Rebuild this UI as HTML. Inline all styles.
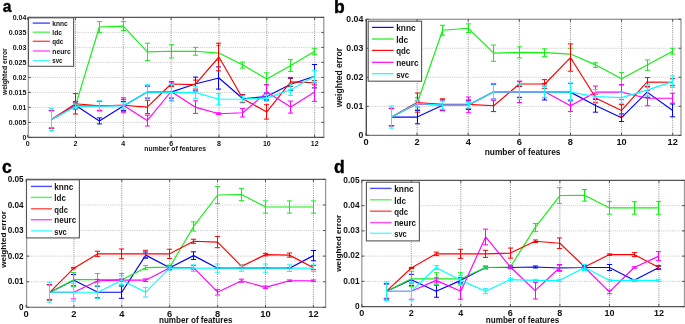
<!DOCTYPE html>
<html><head><meta charset="utf-8"><title>weighted error vs number of features</title>
<style>
html,body{margin:0;padding:0;background:#fff;}
body{width:685px;height:324px;overflow:hidden;}
svg{display:block;font-family:"Liberation Sans",sans-serif;filter:blur(0.35px);}
text{fill:#111;font-weight:bold;}
</style></head><body>
<svg width="685" height="324" viewBox="0 0 685 324">
<rect width="685" height="324" fill="#fff"/>
<path d="M75.44 17.4V137.4M123.28 17.4V137.4M171.12 17.4V137.4M218.96 17.4V137.4M266.8 17.4V137.4M314.64 17.4V137.4" stroke="#8c8c8c" stroke-width="1" stroke-dasharray="1 1.2" fill="none"/>
<path d="M28.3 122.4H323.8M28.3 107.4H323.8M28.3 92.4H323.8M28.3 77.4H323.8M28.3 62.4H323.8M28.3 47.4H323.8M28.3 32.4H323.8" stroke="#c4c4c4" stroke-width="1" stroke-dasharray="1 1.2" fill="none"/>
<path d="M51.5 110.4V128.4M48.9 110.4H54.1M48.9 128.4H54.1M75.5 101.7V108.9M72.9 101.7H78.1M72.9 108.9H78.1M99.5 117.9V123.9M96.9 117.9H102.1M96.9 123.9H102.1M123.5 101.4V110.4M120.9 101.4H126.1M120.9 110.4H126.1M147.5 86.1V98.1M144.9 86.1H150.1M144.9 98.1H150.1M171.5 86.1V98.1M168.9 86.1H174.1M168.9 98.1H174.1M195.5 77.1V90.9M192.9 77.1H198.1M192.9 90.9H198.1M218.5 66.9V89.1M215.9 66.9H221.1M215.9 89.1H221.1M242.5 94.8V102.6M239.9 94.8H245.1M239.9 102.6H245.1M266.5 93V100.2M263.9 93H269.1M263.9 100.2H269.1M290.5 78.3V90.3M287.9 78.3H293.1M287.9 90.3H293.1M314.5 64.5V87.9M311.9 64.5H317.1M311.9 87.9H317.1" stroke="#0000ff" stroke-width="1" fill="none"/>
<polyline points="51.52,119.4 75.44,105.3 99.36,120.9 123.28,105.9 147.2,92.1 171.12,92.1 195.04,84 218.96,78 242.88,98.7 266.8,96.6 290.72,84.3 314.64,76.2" stroke="#0000ff" stroke-width="1.15" fill="none" stroke-linejoin="round"/>
<path d="M51.5 110.4V128.4M48.9 110.4H54.1M48.9 128.4H54.1M75.5 102.9V108.9M72.9 102.9H78.1M72.9 108.9H78.1M99.5 21.6V32.4M96.9 21.6H102.1M96.9 32.4H102.1M123.5 21.6V30.6M120.9 21.6H126.1M120.9 30.6H126.1M147.5 43.2V60.6M144.9 43.2H150.1M144.9 60.6H150.1M171.5 44.7V57.9M168.9 44.7H174.1M168.9 57.9H174.1M195.5 47.4V55.2M192.9 47.4H198.1M192.9 55.2H198.1M218.5 45.6V60.6M215.9 45.6H221.1M215.9 60.6H221.1M242.5 62.1V68.1M239.9 62.1H245.1M239.9 68.1H245.1M266.5 72.9V84.9M263.9 72.9H269.1M263.9 84.9H269.1M290.5 59.4V71.4M287.9 59.4H293.1M287.9 71.4H293.1M314.5 48.3V54.3M311.9 48.3H317.1M311.9 54.3H317.1" stroke="#11f011" stroke-width="1" fill="none"/>
<polyline points="51.52,119.4 75.44,105.9 99.36,27 123.28,26.1 147.2,51.9 171.12,51.3 195.04,51.3 218.96,53.1 242.88,65.1 266.8,78.9 290.72,65.4 314.64,51.3" stroke="#11f011" stroke-width="1.15" fill="none" stroke-linejoin="round"/>
<path d="M51.5 110.7V128.1M48.9 110.7H54.1M48.9 128.1H54.1M75.5 93.6V114M72.9 93.6H78.1M72.9 114H78.1M99.5 101.4V110.4M96.9 101.4H102.1M96.9 110.4H102.1M123.5 99.3V111.3M120.9 99.3H126.1M120.9 111.3H126.1M147.5 100.5V113.7M144.9 100.5H150.1M144.9 113.7H150.1M171.5 81.6V86.4M168.9 81.6H174.1M168.9 86.4H174.1M195.5 80.1V89.1M192.9 80.1H198.1M192.9 89.1H198.1M218.5 43.2V70.8M215.9 43.2H221.1M215.9 70.8H221.1M242.5 94.8V102.6M239.9 94.8H245.1M239.9 102.6H245.1M266.5 104.7V119.1M263.9 104.7H269.1M263.9 119.1H269.1M290.5 77.4V86.4M287.9 77.4H293.1M287.9 86.4H293.1M314.5 80.7V84.9M311.9 80.7H317.1M311.9 84.9H317.1" stroke="#ff0000" stroke-width="1" fill="none"/>
<polyline points="51.52,119.4 75.44,103.8 99.36,105.9 123.28,105.3 147.2,107.1 171.12,84 195.04,84.6 218.96,57 242.88,98.7 266.8,111.9 290.72,81.9 314.64,82.8" stroke="#ff0000" stroke-width="1.15" fill="none" stroke-linejoin="round"/>
<path d="M51.5 110.7V128.1M48.9 110.7H54.1M48.9 128.1H54.1M75.5 102.9V108.9M72.9 102.9H78.1M72.9 108.9H78.1M99.5 101.4V110.4M96.9 101.4H102.1M96.9 110.4H102.1M123.5 97.8V112.8M120.9 97.8H126.1M120.9 112.8H126.1M147.5 115.2V126M144.9 115.2H150.1M144.9 126H150.1M171.5 82.2V100.8M168.9 82.2H174.1M168.9 100.8H174.1M195.5 100.8V113.4M192.9 100.8H198.1M192.9 113.4H198.1M218.5 112.8V114.6M215.9 112.8H221.1M215.9 114.6H221.1M242.5 108.6V117M239.9 108.6H245.1M239.9 117H245.1M266.5 84.6V99.6M263.9 84.6H269.1M263.9 99.6H269.1M290.5 101.1V113.1M287.9 101.1H293.1M287.9 113.1H293.1M314.5 82.8V101.4M311.9 82.8H317.1M311.9 101.4H317.1" stroke="#ff00ff" stroke-width="1" fill="none"/>
<polyline points="51.52,119.4 75.44,105.9 99.36,105.9 123.28,105.3 147.2,120.6 171.12,91.5 195.04,107.1 218.96,113.7 242.88,112.8 266.8,92.1 290.72,107.1 314.64,92.1" stroke="#ff00ff" stroke-width="1.15" fill="none" stroke-linejoin="round"/>
<path d="M51.5 108.3V130.5M48.9 108.3H54.1M48.9 130.5H54.1M75.5 104.1V108.9M72.9 104.1H78.1M72.9 108.9H78.1M99.5 100.8V111.6M96.9 100.8H102.1M96.9 111.6H102.1M123.5 102.9V108.9M120.9 102.9H126.1M120.9 108.9H126.1M147.5 84.3V99.9M144.9 84.3H150.1M144.9 99.9H150.1M171.5 84.6V100.2M168.9 84.6H174.1M168.9 100.2H174.1M195.5 86.4V98.4M192.9 86.4H198.1M192.9 98.4H198.1M218.5 93.6V105M215.9 93.6H221.1M215.9 105H221.1M242.5 96V102M239.9 96H245.1M239.9 102H245.1M266.5 95.1V101.1M263.9 95.1H269.1M263.9 101.1H269.1M290.5 84V95.4M287.9 84H293.1M287.9 95.4H293.1M314.5 70.2V82.2M311.9 70.2H317.1M311.9 82.2H317.1" stroke="#00ffff" stroke-width="1" fill="none"/>
<polyline points="51.52,119.4 75.44,106.5 99.36,106.2 123.28,105.9 147.2,92.1 171.12,92.4 195.04,92.4 218.96,99.3 242.88,99 266.8,98.1 290.72,89.7 314.64,76.2" stroke="#00ffff" stroke-width="1.15" fill="none" stroke-linejoin="round"/>
<path d="M27.8 17.4H324.3M27.8 137.4H324.3" stroke="#555" stroke-width="1.1" fill="none"/>
<path d="M323.8 17.4V137.4" stroke="#9a9a9a" stroke-width="1.3" fill="none"/>
<path d="M28.3 17.4V137.4" stroke="#9a9a9a" stroke-width="1.3" fill="none"/>
<path d="M27.6 137.4v-2.5M27.6 17.4v2.5M75.44 137.4v-2.5M75.44 17.4v2.5M123.28 137.4v-2.5M123.28 17.4v2.5M171.12 137.4v-2.5M171.12 17.4v2.5M218.96 137.4v-2.5M218.96 17.4v2.5M266.8 137.4v-2.5M266.8 17.4v2.5M314.64 137.4v-2.5M314.64 17.4v2.5M28.3 137.4h2.5M323.8 137.4h-2.5M28.3 122.4h2.5M323.8 122.4h-2.5M28.3 107.4h2.5M323.8 107.4h-2.5M28.3 92.4h2.5M323.8 92.4h-2.5M28.3 77.4h2.5M323.8 77.4h-2.5M28.3 62.4h2.5M323.8 62.4h-2.5M28.3 47.4h2.5M323.8 47.4h-2.5M28.3 32.4h2.5M323.8 32.4h-2.5M28.3 17.4h2.5M323.8 17.4h-2.5" stroke="#404040" stroke-width="0.9" fill="none"/>
<text x="27.6" y="145.8" font-size="7.0" text-anchor="middle">0</text>
<text x="75.44" y="145.8" font-size="7.0" text-anchor="middle">2</text>
<text x="123.28" y="145.8" font-size="7.0" text-anchor="middle">4</text>
<text x="171.12" y="145.8" font-size="7.0" text-anchor="middle">6</text>
<text x="218.96" y="145.8" font-size="7.0" text-anchor="middle">8</text>
<text x="266.8" y="145.8" font-size="7.0" text-anchor="middle">10</text>
<text x="314.64" y="145.8" font-size="7.0" text-anchor="middle">12</text>
<text x="26.3" y="139.91" font-size="7.0" text-anchor="end" textLength="3.89" lengthAdjust="spacingAndGlyphs">0</text>
<text x="26.3" y="124.91" font-size="7.0" text-anchor="end" textLength="17.51" lengthAdjust="spacingAndGlyphs">0.005</text>
<text x="26.3" y="109.91" font-size="7.0" text-anchor="end" textLength="13.62" lengthAdjust="spacingAndGlyphs">0.01</text>
<text x="26.3" y="94.91" font-size="7.0" text-anchor="end" textLength="17.51" lengthAdjust="spacingAndGlyphs">0.015</text>
<text x="26.3" y="79.91" font-size="7.0" text-anchor="end" textLength="13.62" lengthAdjust="spacingAndGlyphs">0.02</text>
<text x="26.3" y="64.91" font-size="7.0" text-anchor="end" textLength="17.51" lengthAdjust="spacingAndGlyphs">0.025</text>
<text x="26.3" y="49.91" font-size="7.0" text-anchor="end" textLength="13.62" lengthAdjust="spacingAndGlyphs">0.03</text>
<text x="26.3" y="34.91" font-size="7.0" text-anchor="end" textLength="17.51" lengthAdjust="spacingAndGlyphs">0.035</text>
<text x="26.3" y="19.91" font-size="7.0" text-anchor="end" textLength="13.62" lengthAdjust="spacingAndGlyphs">0.04</text>
<text x="175.2" y="151.4" font-size="7.0" text-anchor="middle" textLength="61.8" lengthAdjust="spacingAndGlyphs">number of features</text>
<text transform="translate(7 71.75) rotate(-90)" x="0" y="0" font-size="6.7" text-anchor="middle" textLength="46.7" lengthAdjust="spacingAndGlyphs">weighted error</text>
<rect x="28.5" y="17.8" width="45.1" height="48.5" fill="#fff" stroke="#555" stroke-width="1.1"/>
<path d="M32.7 23.1H50" stroke="#0000ff" stroke-width="1.4" opacity="0.7"/>
<text x="52.3" y="25.69" font-size="7.2" textLength="15.4" lengthAdjust="spacingAndGlyphs">knnc</text>
<path d="M32.7 32.2H50" stroke="#11f011" stroke-width="1.4" opacity="0.7"/>
<text x="52.3" y="34.79" font-size="7.2" textLength="9.6" lengthAdjust="spacingAndGlyphs">ldc</text>
<path d="M32.7 41.3H50" stroke="#ff0000" stroke-width="1.4" opacity="0.7"/>
<text x="52.3" y="43.89" font-size="7.2" textLength="11.0" lengthAdjust="spacingAndGlyphs">qdc</text>
<path d="M32.7 51H50" stroke="#ff00ff" stroke-width="1.4" opacity="0.7"/>
<text x="52.3" y="53.59" font-size="7.2" textLength="18.4" lengthAdjust="spacingAndGlyphs">neurc</text>
<path d="M32.7 60.6H50" stroke="#00ffff" stroke-width="1.4" opacity="0.7"/>
<text x="52.3" y="63.19" font-size="7.2" textLength="10.2" lengthAdjust="spacingAndGlyphs">svc</text>
<text x="2.8" y="12.4" font-size="15.6" font-weight="bold" fill="#000" style="fill:#000" stroke="#000" stroke-width="0.4">a</text>
<path d="M417.07 19.2V135.4M468.19 19.2V135.4M519.31 19.2V135.4M570.43 19.2V135.4M621.55 19.2V135.4M672.67 19.2V135.4" stroke="#8c8c8c" stroke-width="1" stroke-dasharray="1 1.2" fill="none"/>
<path d="M366.3 106.35H681M366.3 77.3H681M366.3 48.25H681" stroke="#c4c4c4" stroke-width="1" stroke-dasharray="1 1.2" fill="none"/>
<path d="M391.5 108.38V125.81M388.9 108.38H394.1M388.9 125.81H394.1M417.5 110.42V123.78M414.9 110.42H420.1M414.9 123.78H420.1M442.5 99.96V110.42M439.9 99.96H445.1M439.9 110.42H445.1M468.5 100.83V109.55M465.9 100.83H471.1M465.9 109.55H471.1M493.5 84.56V99.09M490.9 84.56H496.1M490.9 99.09H496.1M519.5 86.31V97.34M516.9 86.31H522.1M516.9 97.34H522.1M544.5 83.69V99.96M541.9 83.69H547.1M541.9 99.96H547.1M570.5 83.4V100.83M567.9 83.4H573.1M567.9 100.83H573.1M595.5 99.38V112.16M592.9 99.38H598.1M592.9 112.16H598.1M621.5 113.9V121.46M618.9 113.9H624.1M618.9 121.46H624.1M647.5 86.89V97.34M644.9 86.89H650.1M644.9 97.34H650.1M672.5 104.03V116.81M669.9 104.03H675.1M669.9 116.81H675.1" stroke="#0000ff" stroke-width="1" fill="none"/>
<polyline points="391.51,117.1 417.07,117.1 442.63,105.19 468.19,105.19 493.75,91.83 519.31,91.83 544.87,91.83 570.43,92.12 595.99,105.77 621.55,117.68 647.11,92.12 672.67,110.42" stroke="#0000ff" stroke-width="1.15" fill="none" stroke-linejoin="round"/>
<path d="M391.5 108.38V125.81M388.9 108.38H394.1M388.9 125.81H394.1M417.5 97.64V109.26M414.9 97.64H420.1M414.9 109.26H420.1M442.5 25.3V35.18M439.9 25.3H445.1M439.9 35.18H445.1M468.5 23.85V32.56M465.9 23.85H471.1M465.9 32.56H471.1M493.5 45.05V61.32M490.9 45.05H496.1M490.9 61.32H496.1M519.5 46.8V57.84M516.9 46.8H522.1M516.9 57.84H522.1M544.5 48.83V56.38M541.9 48.83H547.1M541.9 56.38H547.1M570.5 48.25V59.87M567.9 48.25H573.1M567.9 59.87H573.1M595.5 62.78V67.42M592.9 62.78H598.1M592.9 67.42H598.1M621.5 72.36V85.14M618.9 72.36H624.1M618.9 85.14H624.1M647.5 59.87V70.33M644.9 59.87H650.1M644.9 70.33H650.1M672.5 48.25V54.06M669.9 48.25H675.1M669.9 54.06H675.1" stroke="#11f011" stroke-width="1" fill="none"/>
<polyline points="391.51,117.1 417.07,103.45 442.63,30.24 468.19,28.21 493.75,53.19 519.31,52.32 544.87,52.61 570.43,54.06 595.99,65.1 621.55,78.75 647.11,65.1 672.67,51.16" stroke="#11f011" stroke-width="1.15" fill="none" stroke-linejoin="round"/>
<path d="M391.5 108.67V125.52M388.9 108.67H394.1M388.9 125.52H394.1M417.5 92.99V112.16M414.9 92.99H420.1M414.9 112.16H420.1M442.5 98.8V109.84M439.9 98.8H445.1M439.9 109.84H445.1M468.5 99.96V108.67M465.9 99.96H471.1M465.9 108.67H471.1M493.5 99.96V111.58M490.9 99.96H496.1M490.9 111.58H496.1M519.5 81.66V86.31M516.9 81.66H522.1M516.9 86.31H522.1M544.5 79.62V88.34M541.9 79.62H547.1M541.9 88.34H547.1M570.5 43.89V71.2M567.9 43.89H573.1M567.9 71.2H573.1M595.5 94.15V102.28M592.9 94.15H598.1M592.9 102.28H598.1M621.5 104.61V116.23M618.9 104.61H624.1M618.9 116.23H624.1M647.5 77.59V86.31M644.9 77.59H650.1M644.9 86.31H650.1M672.5 78.75V85.72M669.9 78.75H675.1M669.9 85.72H675.1" stroke="#ff0000" stroke-width="1" fill="none"/>
<polyline points="391.51,117.1 417.07,102.57 442.63,104.32 468.19,104.32 493.75,105.77 519.31,83.98 544.87,83.98 570.43,57.55 595.99,98.22 621.55,110.42 647.11,81.95 672.67,82.24" stroke="#ff0000" stroke-width="1.15" fill="none" stroke-linejoin="round"/>
<path d="M391.5 108.38V125.81M388.9 108.38H394.1M388.9 125.81H394.1M417.5 101.12V106.93M414.9 101.12H420.1M414.9 106.93H420.1M442.5 99.67V110.71M439.9 99.67H445.1M439.9 110.71H445.1M468.5 97.05V112.74M465.9 97.05H471.1M465.9 112.74H471.1M493.5 83.4V100.25M490.9 83.4H496.1M490.9 100.25H496.1M519.5 81.08V102.57M516.9 81.08H522.1M516.9 102.57H522.1M544.5 86.02V97.64M541.9 86.02H547.1M541.9 97.64H547.1M570.5 99.96V111.58M567.9 99.96H573.1M567.9 111.58H573.1M595.5 86.02V98.22M592.9 86.02H598.1M592.9 98.22H598.1M621.5 84.56V99.67M618.9 84.56H624.1M618.9 99.67H624.1M647.5 90.66V105.77M644.9 90.66H650.1M644.9 105.77H650.1M672.5 93.28V103.15M669.9 93.28H675.1M669.9 103.15H675.1" stroke="#ff00ff" stroke-width="1" fill="none"/>
<polyline points="391.51,117.1 417.07,104.03 442.63,105.19 468.19,104.9 493.75,91.83 519.31,91.83 544.87,91.83 570.43,105.77 595.99,92.12 621.55,92.12 647.11,98.22 672.67,98.22" stroke="#ff00ff" stroke-width="1.15" fill="none" stroke-linejoin="round"/>
<path d="M391.5 106.06V128.14M388.9 106.06H394.1M388.9 128.14H394.1M417.5 99.96V106.93M414.9 99.96H420.1M414.9 106.93H420.1M442.5 101.12V109.26M439.9 101.12H445.1M439.9 109.26H445.1M468.5 102.28V108.09M465.9 102.28H471.1M465.9 108.09H471.1M493.5 83.98V99.67M490.9 83.98H496.1M490.9 99.67H496.1M519.5 84.27V99.38M516.9 84.27H522.1M516.9 99.38H522.1M544.5 86.02V97.64M541.9 86.02H547.1M541.9 97.64H547.1M570.5 83.11V101.12M567.9 83.11H573.1M567.9 101.12H573.1M595.5 89.5V103.45M592.9 89.5H598.1M592.9 103.45H598.1M621.5 92.12V103.15M618.9 92.12H624.1M618.9 103.15H624.1M647.5 84.27V95.89M644.9 84.27H650.1M644.9 95.89H650.1M672.5 75.85V87.47M669.9 75.85H675.1M669.9 87.47H675.1" stroke="#00ffff" stroke-width="1" fill="none"/>
<polyline points="391.51,117.1 417.07,103.45 442.63,105.19 468.19,105.19 493.75,91.83 519.31,91.83 544.87,91.83 570.43,92.12 595.99,96.47 621.55,97.64 647.11,90.08 672.67,81.66" stroke="#00ffff" stroke-width="1.15" fill="none" stroke-linejoin="round"/>
<path d="M365.8 19.2H681.5M365.8 135.4H681.5" stroke="#777" stroke-width="1.1" fill="none"/>
<path d="M681 19.2V135.4" stroke="#999" stroke-width="1.3" fill="none"/>
<path d="M366.3 19.2V135.4" stroke="#444" stroke-width="1.3" fill="none"/>
<path d="M365.95 135.4v-2.5M365.95 19.2v2.5M417.07 135.4v-2.5M417.07 19.2v2.5M468.19 135.4v-2.5M468.19 19.2v2.5M519.31 135.4v-2.5M519.31 19.2v2.5M570.43 135.4v-2.5M570.43 19.2v2.5M621.55 135.4v-2.5M621.55 19.2v2.5M672.67 135.4v-2.5M672.67 19.2v2.5M366.3 135.4h2.5M681 135.4h-2.5M366.3 106.35h2.5M681 106.35h-2.5M366.3 77.3h2.5M681 77.3h-2.5M366.3 48.25h2.5M681 48.25h-2.5M366.3 19.2h2.5M681 19.2h-2.5" stroke="#404040" stroke-width="0.9" fill="none"/>
<text x="365.95" y="144.6" font-size="9.2" text-anchor="middle">0</text>
<text x="417.07" y="144.6" font-size="9.2" text-anchor="middle">2</text>
<text x="468.19" y="144.6" font-size="9.2" text-anchor="middle">4</text>
<text x="519.31" y="144.6" font-size="9.2" text-anchor="middle">6</text>
<text x="570.43" y="144.6" font-size="9.2" text-anchor="middle">8</text>
<text x="621.55" y="144.6" font-size="9.2" text-anchor="middle">10</text>
<text x="672.67" y="144.6" font-size="9.2" text-anchor="middle">12</text>
<text x="363.3" y="138.09" font-size="9.2" text-anchor="end" textLength="4.86" lengthAdjust="spacingAndGlyphs">0</text>
<text x="363.3" y="109.04" font-size="9.2" text-anchor="end" textLength="17.01" lengthAdjust="spacingAndGlyphs">0.01</text>
<text x="363.3" y="79.99" font-size="9.2" text-anchor="end" textLength="17.01" lengthAdjust="spacingAndGlyphs">0.02</text>
<text x="363.3" y="50.94" font-size="9.2" text-anchor="end" textLength="17.01" lengthAdjust="spacingAndGlyphs">0.03</text>
<text x="363.3" y="21.89" font-size="9.2" text-anchor="end" textLength="17.01" lengthAdjust="spacingAndGlyphs">0.04</text>
<text x="522.6" y="154.7" font-size="8.6" text-anchor="middle" textLength="75.9" lengthAdjust="spacingAndGlyphs">number of features</text>
<text transform="translate(341.6 77.65) rotate(-90)" x="0" y="0" font-size="8.5" text-anchor="middle" textLength="59.3" lengthAdjust="spacingAndGlyphs">weighted error</text>
<rect x="368.2" y="21.2" width="53.4" height="60" fill="#fff" stroke="#555" stroke-width="1.1"/>
<path d="M371.9 27.4H393.6" stroke="#0000ff" stroke-width="1.25" opacity="0.95"/>
<text x="396.2" y="31.3" font-size="8.6" textLength="19.4" lengthAdjust="spacingAndGlyphs">knnc</text>
<path d="M371.9 39H393.6" stroke="#11f011" stroke-width="1.25" opacity="0.95"/>
<text x="396.2" y="42.9" font-size="8.6" textLength="12.0" lengthAdjust="spacingAndGlyphs">ldc</text>
<path d="M371.9 50.4H393.6" stroke="#ff0000" stroke-width="1.25" opacity="0.95"/>
<text x="396.2" y="54.3" font-size="8.6" textLength="14.0" lengthAdjust="spacingAndGlyphs">qdc</text>
<path d="M371.9 62.3H393.6" stroke="#ff00ff" stroke-width="1.25" opacity="0.95"/>
<text x="396.2" y="66.2" font-size="8.6" textLength="22.4" lengthAdjust="spacingAndGlyphs">neurc</text>
<path d="M371.9 73.7H393.6" stroke="#00ffff" stroke-width="1.25" opacity="0.95"/>
<text x="396.2" y="77.6" font-size="8.6" textLength="12.8" lengthAdjust="spacingAndGlyphs">svc</text>
<text x="334" y="12.7" font-size="17.5" font-weight="bold" fill="#000" style="fill:#000" stroke="#000" stroke-width="0.4">b</text>
<path d="M73.9 179.4V307.3M121.8 179.4V307.3M169.7 179.4V307.3M217.6 179.4V307.3M265.5 179.4V307.3M313.4 179.4V307.3" stroke="#8c8c8c" stroke-width="1" stroke-dasharray="1 1.2" fill="none"/>
<path d="M26.6 281.72H325.6M26.6 256.14H325.6M26.6 230.56H325.6M26.6 204.98H325.6" stroke="#c4c4c4" stroke-width="1" stroke-dasharray="1 1.2" fill="none"/>
<path d="M49.5 284.53V299.88M46.9 284.53H52.1M46.9 299.88H52.1M73.5 274.56V285.81M70.9 274.56H76.1M70.9 285.81H76.1M97.5 286.58V297.84M94.9 286.58H100.1M94.9 297.84H100.1M121.5 286.07V298.35M118.9 286.07H124.1M118.9 298.35H124.1M145.5 252.05V258.19M142.9 252.05H148.1M142.9 258.19H148.1M169.5 265.6V269.7M166.9 265.6H172.1M166.9 269.7H172.1M193.5 251.79V259.47M190.9 251.79H196.1M190.9 259.47H196.1M217.5 268.16V268.16M214.9 268.16H220.1M214.9 268.16H220.1M241.5 268.16V268.16M238.9 268.16H244.1M238.9 268.16H244.1M265.5 268.16V268.16M262.9 268.16H268.1M262.9 268.16H268.1M289.5 268.16V268.16M286.9 268.16H292.1M286.9 268.16H292.1M313.5 250.51V260.74M310.9 250.51H316.1M310.9 260.74H316.1" stroke="#0000ff" stroke-width="1" fill="none"/>
<polyline points="49.95,292.21 73.9,280.19 97.85,292.21 121.8,292.21 145.75,255.12 169.7,267.65 193.65,255.63 217.6,268.16 241.55,268.16 265.5,268.16 289.45,268.16 313.4,255.63" stroke="#0000ff" stroke-width="1.15" fill="none" stroke-linejoin="round"/>
<path d="M49.5 284.53V299.88M46.9 284.53H52.1M46.9 299.88H52.1M73.5 272.51V286.84M70.9 272.51H76.1M70.9 286.84H76.1M97.5 273.53V285.81M94.9 273.53H100.1M94.9 285.81H100.1M121.5 273.53V285.81M118.9 273.53H124.1M118.9 285.81H124.1M145.5 265.6V269.7M142.9 265.6H148.1M142.9 269.7H148.1M169.5 265.09V269.19M166.9 265.09H172.1M166.9 269.19H172.1M193.5 221.86V231.07M190.9 221.86H196.1M190.9 231.07H196.1M217.5 186.56V203.45M214.9 186.56H220.1M214.9 203.45H220.1M241.5 188.35V200.63M238.9 188.35H244.1M238.9 200.63H244.1M265.5 200.89V213.17M262.9 200.89H268.1M262.9 213.17H268.1M289.5 200.89V213.17M286.9 200.89H292.1M286.9 213.17H292.1M313.5 200.89V213.17M310.9 200.89H316.1M310.9 213.17H316.1" stroke="#11f011" stroke-width="1" fill="none"/>
<polyline points="49.95,292.21 73.9,279.67 97.85,279.67 121.8,279.67 145.75,267.65 169.7,267.14 193.65,226.47 217.6,195 241.55,194.49 265.5,207.03 289.45,207.03 313.4,207.03" stroke="#11f011" stroke-width="1.15" fill="none" stroke-linejoin="round"/>
<path d="M49.5 284.53V299.88M46.9 284.53H52.1M46.9 299.88H52.1M73.5 267.4V268.93M70.9 267.4H76.1M70.9 268.93H76.1M97.5 251.28V256.4M94.9 251.28H100.1M94.9 256.4H100.1M121.5 248.98V258.7M118.9 248.98H124.1M118.9 258.7H124.1M145.5 250.26V257.42M142.9 250.26H148.1M142.9 257.42H148.1M169.5 249.23V258.44M166.9 249.23H172.1M166.9 258.44H172.1M193.5 239.26V243.35M190.9 239.26H196.1M190.9 243.35H196.1M217.5 236.44V247.7M214.9 236.44H220.1M214.9 247.7H220.1M241.5 265.09V267.65M238.9 265.09H244.1M238.9 267.65H244.1M265.5 253.33V255.88M262.9 253.33H268.1M262.9 255.88H268.1M289.5 253.07V257.16M286.9 253.07H292.1M286.9 257.16H292.1M313.5 265.6V269.7M310.9 265.6H316.1M310.9 269.7H316.1" stroke="#ff0000" stroke-width="1" fill="none"/>
<polyline points="49.95,292.21 73.9,268.16 97.85,253.84 121.8,253.84 145.75,253.84 169.7,253.84 193.65,241.3 217.6,242.07 241.55,266.37 265.5,254.61 289.45,255.12 313.4,267.65" stroke="#ff0000" stroke-width="1.15" fill="none" stroke-linejoin="round"/>
<path d="M49.5 285.05V299.37M46.9 285.05H52.1M46.9 299.37H52.1M73.5 285.56V298.86M70.9 285.56H76.1M70.9 298.86H76.1M97.5 279.42V281.98M94.9 279.42H100.1M94.9 281.98H100.1M121.5 278.91V281.46M118.9 278.91H124.1M118.9 281.46H124.1M145.5 278.91V281.46M142.9 278.91H148.1M142.9 281.46H148.1M169.5 265.6V269.7M166.9 265.6H172.1M166.9 269.7H172.1M193.5 265.6V269.7M190.9 265.6H196.1M190.9 269.7H196.1M217.5 289.39V295.02M214.9 289.39H220.1M214.9 295.02H220.1M241.5 279.16V282.23M238.9 279.16H244.1M238.9 282.23H244.1M265.5 286.07V288.63M262.9 286.07H268.1M262.9 288.63H268.1M289.5 279.93V281.46M286.9 279.93H292.1M286.9 281.46H292.1M313.5 279.93V281.46M310.9 279.93H316.1M310.9 281.46H316.1" stroke="#ff00ff" stroke-width="1" fill="none"/>
<polyline points="49.95,292.21 73.9,292.21 97.85,280.7 121.8,280.19 145.75,280.19 169.7,267.65 193.65,267.65 217.6,292.21 241.55,280.7 265.5,287.35 289.45,280.7 313.4,280.7" stroke="#ff00ff" stroke-width="1.15" fill="none" stroke-linejoin="round"/>
<path d="M49.5 282.23V302.18M46.9 282.23H52.1M46.9 302.18H52.1M73.5 283.25V301.16M70.9 283.25H76.1M70.9 301.16H76.1M97.5 285.81V298.6M94.9 285.81H100.1M94.9 298.6H100.1M121.5 275.84V284.53M118.9 275.84H124.1M118.9 284.53H124.1M145.5 287.35V297.07M142.9 287.35H148.1M142.9 297.07H148.1M169.5 266.12V270.21M166.9 266.12H172.1M166.9 270.21H172.1M193.5 264.84V271.49M190.9 264.84H196.1M190.9 271.49H196.1M217.5 264.07V272.26M214.9 264.07H220.1M214.9 272.26H220.1M241.5 265.09V271.23M238.9 265.09H244.1M238.9 271.23H244.1M265.5 264.07V272.26M262.9 264.07H268.1M262.9 272.26H268.1M289.5 264.84V271.49M286.9 264.84H292.1M286.9 271.49H292.1M313.5 264.84V271.49M310.9 264.84H316.1M310.9 271.49H316.1" stroke="#00ffff" stroke-width="1" fill="none"/>
<polyline points="49.95,292.21 73.9,292.21 97.85,292.21 121.8,280.19 145.75,292.21 169.7,268.16 193.65,268.16 217.6,268.16 241.55,268.16 265.5,268.16 289.45,268.16 313.4,268.16" stroke="#00ffff" stroke-width="1.15" fill="none" stroke-linejoin="round"/>
<path d="M26.1 179.4H326.1M26.1 307.3H326.1" stroke="#555" stroke-width="1.1" fill="none"/>
<path d="M325.6 179.4V307.3" stroke="#9a9a9a" stroke-width="1.3" fill="none"/>
<path d="M26.6 179.4V307.3" stroke="#9a9a9a" stroke-width="1.3" fill="none"/>
<path d="M26 307.3v-2.5M26 179.4v2.5M73.9 307.3v-2.5M73.9 179.4v2.5M121.8 307.3v-2.5M121.8 179.4v2.5M169.7 307.3v-2.5M169.7 179.4v2.5M217.6 307.3v-2.5M217.6 179.4v2.5M265.5 307.3v-2.5M265.5 179.4v2.5M313.4 307.3v-2.5M313.4 179.4v2.5M26.6 307.3h2.5M325.6 307.3h-2.5M26.6 281.72h2.5M325.6 281.72h-2.5M26.6 256.14h2.5M325.6 256.14h-2.5M26.6 230.56h2.5M325.6 230.56h-2.5M26.6 204.98h2.5M325.6 204.98h-2.5M26.6 179.4h2.5M325.6 179.4h-2.5" stroke="#404040" stroke-width="0.9" fill="none"/>
<text x="26" y="316.7" font-size="9.3" text-anchor="middle">0</text>
<text x="73.9" y="316.7" font-size="9.3" text-anchor="middle">2</text>
<text x="121.8" y="316.7" font-size="9.3" text-anchor="middle">4</text>
<text x="169.7" y="316.7" font-size="9.3" text-anchor="middle">6</text>
<text x="217.6" y="316.7" font-size="9.3" text-anchor="middle">8</text>
<text x="265.5" y="316.7" font-size="9.3" text-anchor="middle">10</text>
<text x="313.4" y="316.7" font-size="9.3" text-anchor="middle">12</text>
<text x="23.6" y="310.03" font-size="9.3" text-anchor="end" textLength="4.55" lengthAdjust="spacingAndGlyphs">0</text>
<text x="23.6" y="284.45" font-size="9.3" text-anchor="end" textLength="15.93" lengthAdjust="spacingAndGlyphs">0.01</text>
<text x="23.6" y="258.87" font-size="9.3" text-anchor="end" textLength="15.93" lengthAdjust="spacingAndGlyphs">0.02</text>
<text x="23.6" y="233.29" font-size="9.3" text-anchor="end" textLength="15.93" lengthAdjust="spacingAndGlyphs">0.03</text>
<text x="23.6" y="207.71" font-size="9.3" text-anchor="end" textLength="15.93" lengthAdjust="spacingAndGlyphs">0.04</text>
<text x="23.6" y="182.13" font-size="9.3" text-anchor="end" textLength="15.93" lengthAdjust="spacingAndGlyphs">0.05</text>
<text x="195.7" y="323" font-size="8.4" text-anchor="middle" textLength="73.5" lengthAdjust="spacingAndGlyphs">number of features</text>
<text transform="translate(6.1 239.5) rotate(-90)" x="0" y="0" font-size="8.1" text-anchor="middle" textLength="56.6" lengthAdjust="spacingAndGlyphs">weighted error</text>
<rect x="26.5" y="179.8" width="52.9" height="58.1" fill="#fff" stroke="#555" stroke-width="1.1"/>
<path d="M30.9 186.4H52" stroke="#0000ff" stroke-width="1.4" opacity="0.7"/>
<text x="54.3" y="190.15" font-size="8.2" textLength="19.0" lengthAdjust="spacingAndGlyphs">knnc</text>
<path d="M30.9 197.4H52" stroke="#11f011" stroke-width="1.4" opacity="0.7"/>
<text x="54.3" y="201.15" font-size="8.2" textLength="11.6" lengthAdjust="spacingAndGlyphs">ldc</text>
<path d="M30.9 208.8H52" stroke="#ff0000" stroke-width="1.4" opacity="0.7"/>
<text x="54.3" y="212.55" font-size="8.2" textLength="13.6" lengthAdjust="spacingAndGlyphs">qdc</text>
<path d="M30.9 219.7H52" stroke="#ff00ff" stroke-width="1.4" opacity="0.7"/>
<text x="54.3" y="223.45" font-size="8.2" textLength="21.8" lengthAdjust="spacingAndGlyphs">neurc</text>
<path d="M30.9 230.8H52" stroke="#00ffff" stroke-width="1.4" opacity="0.7"/>
<text x="54.3" y="234.55" font-size="8.2" textLength="12.4" lengthAdjust="spacingAndGlyphs">svc</text>
<text x="2" y="173.2" font-size="17.5" font-weight="bold" fill="#000" style="fill:#000" stroke="#000" stroke-width="0.4">c</text>
<path d="M411.32 180.4V306.6M460.84 180.4V306.6M510.36 180.4V306.6M559.88 180.4V306.6M609.4 180.4V306.6M658.92 180.4V306.6" stroke="#8c8c8c" stroke-width="1" stroke-dasharray="1 1.2" fill="none"/>
<path d="M361.8 281.36H684.5M361.8 256.12H684.5M361.8 230.88H684.5M361.8 205.64H684.5" stroke="#c4c4c4" stroke-width="1" stroke-dasharray="1 1.2" fill="none"/>
<path d="M386.5 283.63V298.78M383.9 283.63H389.1M383.9 298.78H389.1M411.5 274.29V285.4M408.9 274.29H414.1M408.9 285.4H414.1M436.5 285.15V297.26M433.9 285.15H439.1M433.9 297.26H439.1M460.5 277.83V282.87M457.9 277.83H463.1M457.9 282.87H463.1M485.5 266.22V268.74M482.9 266.22H488.1M482.9 268.74H488.1M510.5 266.22V268.74M507.9 266.22H513.1M507.9 268.74H513.1M535.5 265.96V267.98M532.9 265.96H538.1M532.9 267.98H538.1M559.5 264.95V271.01M556.9 264.95H562.1M556.9 271.01H562.1M584.5 266.22V268.74M581.9 266.22H587.1M581.9 268.74H587.1M609.5 264.45V270.51M606.9 264.45H612.1M606.9 270.51H612.1M634.5 279.59V281.11M631.9 279.59H637.1M631.9 281.11H637.1M658.5 266.22V268.74M655.9 266.22H661.1M655.9 268.74H661.1" stroke="#0000ff" stroke-width="1" fill="none"/>
<polyline points="386.56,291.2 411.32,279.85 436.08,291.2 460.84,280.35 485.6,267.48 510.36,267.48 535.12,266.97 559.88,267.98 584.64,267.48 609.4,267.48 634.16,280.35 658.92,267.48" stroke="#0000ff" stroke-width="1.15" fill="none" stroke-linejoin="round"/>
<path d="M386.5 283.63V298.78M383.9 283.63H389.1M383.9 298.78H389.1M411.5 271.26V286.41M408.9 271.26H414.1M408.9 286.41H414.1M436.5 272.78V284.89M433.9 272.78H439.1M433.9 284.89H439.1M460.5 272.78V284.89M457.9 272.78H463.1M457.9 284.89H463.1M485.5 266.22V268.74M482.9 266.22H488.1M482.9 268.74H488.1M510.5 265.71V268.24M507.9 265.71H513.1M507.9 268.24H513.1M535.5 223.56V231.64M532.9 223.56H538.1M532.9 231.64H538.1M559.5 187.72V203.37M556.9 187.72H562.1M556.9 203.37H562.1M584.5 189.49V201.1M581.9 189.49H587.1M581.9 201.1H587.1M609.5 201.6V214.22M606.9 201.6H612.1M606.9 214.22H612.1M634.5 201.6V214.22M631.9 201.6H637.1M631.9 214.22H637.1M658.5 201.6V214.22M655.9 201.6H661.1M655.9 214.22H661.1" stroke="#11f011" stroke-width="1" fill="none"/>
<polyline points="386.56,291.2 411.32,278.84 436.08,278.84 460.84,278.84 485.6,267.48 510.36,266.97 535.12,227.6 559.88,195.54 584.64,195.29 609.4,207.91 634.16,207.91 658.92,207.91" stroke="#11f011" stroke-width="1.15" fill="none" stroke-linejoin="round"/>
<path d="M386.5 283.63V298.78M383.9 283.63H389.1M383.9 298.78H389.1M411.5 267.48V268.49M408.9 267.48H414.1M408.9 268.49H414.1M436.5 252.08V255.62M433.9 252.08H439.1M433.9 255.62H439.1M460.5 249.31V258.39M457.9 249.31H463.1M457.9 258.39H463.1M485.5 250.31V257.38M482.9 250.31H488.1M482.9 257.38H488.1M510.5 248.04V258.14M507.9 248.04H513.1M507.9 258.14H513.1M535.5 239.97V242.49M532.9 239.97H538.1M532.9 242.49H538.1M559.5 237.95V248.55M556.9 237.95H562.1M556.9 248.55H562.1M584.5 265.71V268.24M581.9 265.71H587.1M581.9 268.24H587.1M609.5 253.85V255.36M606.9 253.85H612.1M606.9 255.36H612.1M634.5 252.59V256.62M631.9 252.59H637.1M631.9 256.62H637.1M658.5 265.46V269.5M655.9 265.46H661.1M655.9 269.5H661.1" stroke="#ff0000" stroke-width="1" fill="none"/>
<polyline points="386.56,291.2 411.32,267.98 436.08,253.85 460.84,253.85 485.6,253.85 510.36,253.09 535.12,241.23 559.88,243.25 584.64,266.97 609.4,254.61 634.16,254.61 658.92,267.48" stroke="#ff0000" stroke-width="1.15" fill="none" stroke-linejoin="round"/>
<path d="M386.5 284.14V298.27M383.9 284.14H389.1M383.9 298.27H389.1M411.5 283.13V299.28M408.9 283.13H414.1M408.9 299.28H414.1M436.5 277.83V282.87M433.9 277.83H439.1M433.9 282.87H439.1M460.5 283.13V299.28M457.9 283.13H463.1M457.9 299.28H463.1M485.5 229.11V244.76M482.9 229.11H488.1M482.9 244.76H488.1M510.5 265.71V268.24M507.9 265.71H513.1M507.9 268.24H513.1M535.5 282.37V299.03M532.9 282.37H538.1M532.9 299.03H538.1M559.5 264.45V270.51M556.9 264.45H562.1M556.9 270.51H562.1M584.5 266.22V268.74M581.9 266.22H587.1M581.9 268.74H587.1M609.5 290.19V293.73M606.9 290.19H612.1M606.9 293.73H612.1M634.5 266.72V268.24M631.9 266.72H637.1M631.9 268.24H637.1M658.5 251.58V260.66M655.9 251.58H661.1M655.9 260.66H661.1" stroke="#ff00ff" stroke-width="1" fill="none"/>
<polyline points="386.56,291.2 411.32,291.2 436.08,280.35 460.84,291.2 485.6,236.94 510.36,266.97 535.12,290.7 559.88,267.48 584.64,267.48 609.4,291.96 634.16,267.48 658.92,256.12" stroke="#ff00ff" stroke-width="1.15" fill="none" stroke-linejoin="round"/>
<path d="M386.5 281.86V300.54M383.9 281.86H389.1M383.9 300.54H389.1M411.5 282.37V300.04M408.9 282.37H414.1M408.9 300.04H414.1M436.5 265.46V269.5M433.9 265.46H439.1M433.9 269.5H439.1M460.5 275.3V285.4M457.9 275.3H463.1M457.9 285.4H463.1M485.5 288.68V293.73M482.9 288.68H488.1M482.9 293.73H488.1M510.5 278.33V280.86M507.9 278.33H513.1M507.9 280.86H513.1M535.5 279.34V281.36M532.9 279.34H538.1M532.9 281.36H538.1M559.5 279.34V281.36M556.9 279.34H562.1M556.9 281.36H562.1M584.5 264.45V270.51M581.9 264.45H587.1M581.9 270.51H587.1M609.5 279.34V281.36M606.9 279.34H612.1M606.9 281.36H612.1M634.5 279.34V281.36M631.9 279.34H637.1M631.9 281.36H637.1M658.5 279.34V281.36M655.9 279.34H661.1M655.9 281.36H661.1" stroke="#00ffff" stroke-width="1" fill="none"/>
<polyline points="386.56,291.2 411.32,291.2 436.08,267.48 460.84,280.35 485.6,291.2 510.36,279.59 535.12,280.35 559.88,280.35 584.64,267.48 609.4,280.35 634.16,280.35 658.92,280.35" stroke="#00ffff" stroke-width="1.15" fill="none" stroke-linejoin="round"/>
<path d="M361.3 180.4H685M361.3 306.6H685" stroke="#555" stroke-width="1.1" fill="none"/>
<path d="M684.5 180.4V306.6" stroke="#9a9a9a" stroke-width="1.3" fill="none"/>
<path d="M361.8 180.4V306.6" stroke="#9a9a9a" stroke-width="1.3" fill="none"/>
<path d="M361.8 306.6v-2.5M361.8 180.4v2.5M411.32 306.6v-2.5M411.32 180.4v2.5M460.84 306.6v-2.5M460.84 180.4v2.5M510.36 306.6v-2.5M510.36 180.4v2.5M559.88 306.6v-2.5M559.88 180.4v2.5M609.4 306.6v-2.5M609.4 180.4v2.5M658.92 306.6v-2.5M658.92 180.4v2.5M361.8 306.6h2.5M684.5 306.6h-2.5M361.8 281.36h2.5M684.5 281.36h-2.5M361.8 256.12h2.5M684.5 256.12h-2.5M361.8 230.88h2.5M684.5 230.88h-2.5M361.8 205.64h2.5M684.5 205.64h-2.5M361.8 180.4h2.5M684.5 180.4h-2.5" stroke="#404040" stroke-width="0.9" fill="none"/>
<text x="361.8" y="316.1" font-size="9.0" text-anchor="middle">0</text>
<text x="411.32" y="316.1" font-size="9.0" text-anchor="middle">2</text>
<text x="460.84" y="316.1" font-size="9.0" text-anchor="middle">4</text>
<text x="510.36" y="316.1" font-size="9.0" text-anchor="middle">6</text>
<text x="559.88" y="316.1" font-size="9.0" text-anchor="middle">8</text>
<text x="609.4" y="316.1" font-size="9.0" text-anchor="middle">10</text>
<text x="658.92" y="316.1" font-size="9.0" text-anchor="middle">12</text>
<text x="359.6" y="308.92" font-size="9.0" text-anchor="end" textLength="4.65" lengthAdjust="spacingAndGlyphs">0</text>
<text x="359.6" y="283.68" font-size="9.0" text-anchor="end" textLength="16.29" lengthAdjust="spacingAndGlyphs">0.01</text>
<text x="359.6" y="258.44" font-size="9.0" text-anchor="end" textLength="16.29" lengthAdjust="spacingAndGlyphs">0.02</text>
<text x="359.6" y="233.2" font-size="9.0" text-anchor="end" textLength="16.29" lengthAdjust="spacingAndGlyphs">0.03</text>
<text x="359.6" y="207.96" font-size="9.0" text-anchor="end" textLength="16.29" lengthAdjust="spacingAndGlyphs">0.04</text>
<text x="359.6" y="182.72" font-size="9.0" text-anchor="end" textLength="16.29" lengthAdjust="spacingAndGlyphs">0.05</text>
<text x="522.5" y="323" font-size="8.4" text-anchor="middle" textLength="73.5" lengthAdjust="spacingAndGlyphs">number of features</text>
<text transform="translate(340.6 243.35) rotate(-90)" x="0" y="0" font-size="8.1" text-anchor="middle" textLength="56.9" lengthAdjust="spacingAndGlyphs">weighted error</text>
<rect x="366.4" y="182.2" width="53" height="58.7" fill="#fff" stroke="#555" stroke-width="1.1"/>
<path d="M370.1 188.4H391.6" stroke="#0000ff" stroke-width="1.4" opacity="0.7"/>
<text x="394.2" y="192.22" font-size="8.4" textLength="19.4" lengthAdjust="spacingAndGlyphs">knnc</text>
<path d="M370.1 199.8H391.6" stroke="#11f011" stroke-width="1.4" opacity="0.7"/>
<text x="394.2" y="203.62" font-size="8.4" textLength="11.8" lengthAdjust="spacingAndGlyphs">ldc</text>
<path d="M370.1 211.2H391.6" stroke="#ff0000" stroke-width="1.4" opacity="0.7"/>
<text x="394.2" y="215.02" font-size="8.4" textLength="13.8" lengthAdjust="spacingAndGlyphs">qdc</text>
<path d="M370.1 222.6H391.6" stroke="#ff00ff" stroke-width="1.4" opacity="0.7"/>
<text x="394.2" y="226.42" font-size="8.4" textLength="21.8" lengthAdjust="spacingAndGlyphs">neurc</text>
<path d="M370.1 233.3H391.6" stroke="#00ffff" stroke-width="1.4" opacity="0.7"/>
<text x="394.2" y="237.12" font-size="8.4" textLength="12.6" lengthAdjust="spacingAndGlyphs">svc</text>
<text x="333.9" y="172.8" font-size="17.5" font-weight="bold" fill="#000" style="fill:#000" stroke="#000" stroke-width="0.4">d</text>
</svg>
</body></html>
